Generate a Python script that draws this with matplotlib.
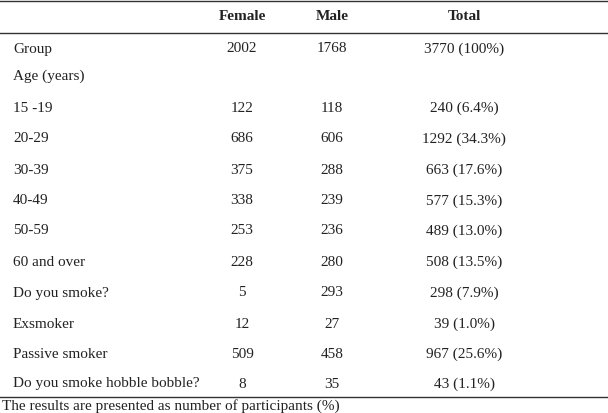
import matplotlib.pyplot as plt

labels = ['Group', 'Age (years)', '15 -19', '20-29', '30-39', '40-49', '50-59',
          '60 and over', 'Do you smoke?', 'Exsmoker', 'Passive smoker',
          'Do you smoke hobble bobble?']
female = ['2002', '', '122', '686', '375', '338', '253', '228', '5', '12', '509', '8']
male = ['1768', '', '118', '606', '288', '239', '236', '280', '293', '27', '458', '35']
total = ['3770 (100%)', '', '240 (6.4%)', '1292 (34.3%)', '663 (17.6%)', '577 (15.3%)',
         '489 (13.0%)', '508 (13.5%)', '298 (7.9%)', '39 (1.0%)', '967 (25.6%)', '43 (1.1%)']
headers = ['Female', 'Male', 'Total']
note = 'The results are presented as number of participants (%)'

row_y = [49, 76, 108, 139, 170, 201, 231, 262, 293, 324, 354, 384]
col_x = [242, 332, 464]

plt.rcParams['font.family'] = ['Liberation Serif', 'DejaVu Serif']
fig = plt.figure(figsize=(6.08, 4.13), dpi=100)
ax = fig.add_axes([0, 0, 1, 1])
ax.set_xlim(0, 608)
ax.set_ylim(413, 0)
ax.axis('off')

fs = 11
for h, x in zip(headers, col_x):
    ax.text(x, 17, h, ha='center', va='center', fontsize=fs, fontweight='bold', color='#222222')

for i, y in enumerate(row_y):
    ax.text(13, y, labels[i], ha='left', va='center', fontsize=fs, color='#222222')
    for vals, x in zip([female, male, total], col_x):
        ax.text(x, y, vals[i], ha='center', va='center', fontsize=fs, color='#222222')

for y in [1, 33, 397]:
    ax.plot([0, 608], [y, y], color='#333333', lw=1.0)

ax.text(2, 406, note, ha='left', va='center', fontsize=fs, color='#222222')

fig.savefig('out.png', dpi=100, facecolor='white')
